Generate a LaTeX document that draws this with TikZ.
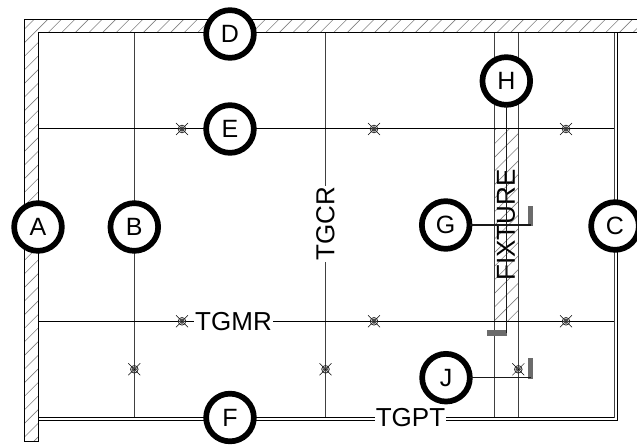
\documentclass[tikz,border=0pt]{standalone}
\usepackage{fontspec}
\setmainfont{Liberation Sans}
\tikzset{
  bubble/.style={circle,draw=black,line width=5.7pt,outer sep=0pt,fill=white,minimum size=47.7pt,inner sep=0pt,font=\fontsize{25}{29}\selectfont},
  label/.style={font=\fontsize{26}{30}\selectfont,inner sep=1pt,text=black},
  wall/.style={draw=black,line width=1pt},
  grid/.style={draw=black!75,line width=1pt},
  hline/.style={draw=black,line width=1pt},
  hatchline/.style={draw=black!50,line width=.6pt},
  leader/.style={draw=black!90,line width=1.4pt},
  bar/.style={draw=black!58,line width=5.8pt},
  fixmark/.pic={
    \draw[black,line width=.5pt] (-6,-6) -- (6,6) (-6,6) -- (6,-6);
    \draw[black!85,line width=.8pt] (0,0) circle (3.8);
    \draw[black!70,line width=1.4pt] (0,0) circle (1.9);
  }
}
\begin{document}
\begin{tikzpicture}[x=1pt,y=-1pt]
\useasboundingbox (0,0) rectangle (637,446);
% hatching of the walls
\begin{scope}
  \clip (24.5,19.5) -| (637,33) -| (38.5,441) -| cycle;
  \foreach \k in {0,...,50} {
    \draw[hatchline] ({53.5+13.6*\k},0) -- ++(-460,460);
  }
\end{scope}
\begin{scope}
  \clip (494,129) rectangle (518.3,321.3);
  \foreach \k in {30,...,60} {
    \draw[hatchline] ({53.5+13.6*\k},0) -- ++(-460,460);
  }
\end{scope}
% wall outline
\draw[wall] (637,19.5) -- (24.5,19.5) -- (24.5,441) -- (38.5,441) -- (38.5,33) -- (637,33);
% coordinates of the grid
\coordinate (bT) at (134.3,33);   \coordinate (bB) at (134.3,417.5);
\coordinate (cT) at (325.5,33);   \coordinate (cB) at (325.5,417.5);
\coordinate (fT) at (494,33);     \coordinate (fB) at (494,417.5);
\coordinate (gT) at (518.3,33);   \coordinate (gB) at (518.3,417.5);
\coordinate (eL) at (38.5,129);   \coordinate (eR) at (614,129);
\coordinate (mL) at (38.5,321.3); \coordinate (mR) at (614,321.3);
\coordinate (rT) at (614,33);     \coordinate (oT) at (617,33);
\coordinate (pL) at (38.5,417.5); \coordinate (pR) at (614,417.5);
\coordinate (qL) at (38.5,420.5); \coordinate (qR) at (617,420.5);
\draw[grid] (bT) -- (bB);
\draw[grid] (cT) -- (cB);
\draw[grid] (fT) -- (fB);
\draw[grid] (gT) -- (gB);
\draw[grid] (rT) -- (pR);
\draw[hline] (eL) -- (eR);
\draw[hline] (mL) -- (mR);
\draw[hline] (pL) -- (pR);
\draw[hline] (qL) -- (qR) -- (oT);
% fixtures
\foreach \p in {(182,129),(374,129),(566,129),(182,321.3),(374,321.3),(566,321.3),(134.3,369.3),(325.5,369.3),(518.3,369.3)}
  \pic at \p {fixmark};
% leaders with their bars
\coordinate (hEnd) at (506.3,333);
\coordinate (hBarA) at (507,333);
\coordinate (hBarB) at (486.7,333);
\coordinate (gEnd) at (530.5,226);
\coordinate (gBar) at (530.5,205.7);
\coordinate (jEnd) at (530.5,379);
\coordinate (jBar) at (530.5,358);
\draw[bar] (hBarA) -- (hBarB);
\draw[bar] (gEnd) -- (gBar);
\draw[bar] (jEnd) -- (jBar);
% labels
\node[label,rotate=90] (fixture) at (506,225) {FIXTURE};
\node[label,rotate=90,fill=white] (tgcr) at (325.5,224) {TGCR};
\node[label,fill=white] (tgmr) at (233.5,321.3) {TGMR};
\node[label,fill=white] (tgpt) at (410.5,417.5) {TGPT};
% bubbles
\node[bubble] (A) at (38,227) {A};
\node[bubble] (B) at (134.3,227) {B};
\node[bubble] (C) at (615,226) {C};
\node[bubble] (D) at (230,34) {D};
\node[bubble] (E) at (230,129) {E};
\node[bubble] (F) at (230,417.5) {F};
\node[bubble] (G) at (445.7,225) {G};
\node[bubble] (H) at (506.3,81) {H};
\node[bubble] (J) at (446,377.7) {J};
\draw[leader] (H) -- (hEnd);
\draw[leader] (G) -- (G -| gEnd);
\draw[leader] (J) -- (J -| jEnd);
\end{tikzpicture}
\end{document}
